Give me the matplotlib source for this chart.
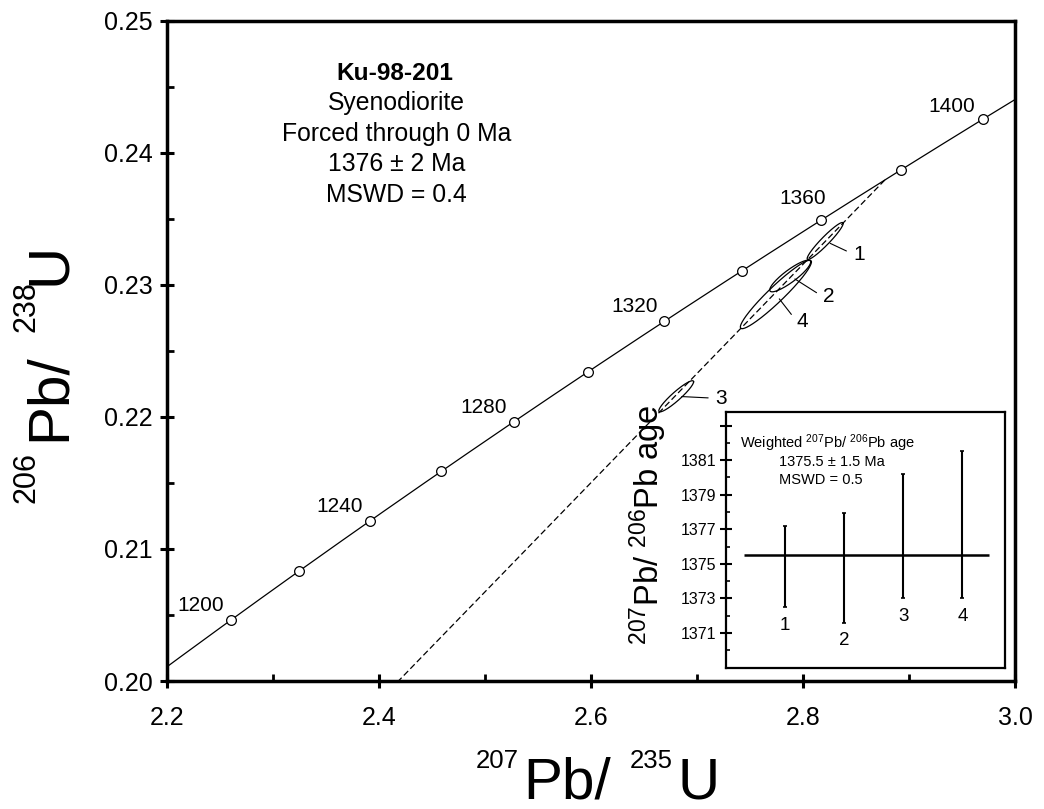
import numpy as np
import matplotlib.pyplot as plt
from matplotlib.ticker import MultipleLocator, FormatStrFormatter

plt.rcParams['font.family'] = ['Liberation Sans', 'DejaVu Sans']
plt.rcParams['mathtext.fontset'] = 'custom'
plt.rcParams['mathtext.rm'] = 'Liberation Sans'
plt.rcParams['mathtext.it'] = 'Liberation Sans:italic'
plt.rcParams['mathtext.bf'] = 'Liberation Sans:bold'

# decay constants (1/yr)
L238 = 1.55125e-10
L235 = 9.8485e-10

# concordia age marks (Ma)
tick_ages = [1200, 1220, 1240, 1260, 1280, 1300, 1320, 1340, 1360, 1380, 1400]
label_ages = [1200, 1240, 1280, 1320, 1360, 1400]

# zircon analyses
grain_ids = ['1', '2', '3', '4']
r75 = [2.8210, 2.7880, 2.6805, 2.7745]
r68 = [0.23332, 0.23067, 0.22156, 0.22927]
err75 = [0.0170, 0.0193, 0.0164, 0.0335]
err68 = [0.00140, 0.00120, 0.00118, 0.00259]
rho = [0.95, 0.88, 0.93, 0.95]

# discordia intercepts (Ma)
lower_age = 0
upper_age = 1376

# 207Pb/206Pb ages of each grain (Ma)
pb_low = [1372.5, 1371.6, 1373.0, 1373.0]
pb_high = [1377.2, 1377.95, 1380.2, 1381.55]
wmean = 1375.5

sample_lines = ['Syenodiorite', 'Forced through 0 Ma', '1376 \u00b1 2 Ma', 'MSWD = 0.4']


def concordia(t_ma):
    t = np.asarray(t_ma, dtype=float) * 1e6
    return np.exp(L235 * t) - 1, np.exp(L238 * t) - 1


def ellipse(x0, y0, sx, sy, r, n=200):
    cov = np.array([[sx**2, r * sx * sy], [r * sx * sy, sy**2]])
    L = np.linalg.cholesky(cov)
    t = np.linspace(0, 2 * np.pi, n)
    pts = L @ np.vstack([np.cos(t), np.sin(t)])
    return x0 + pts[0], y0 + pts[1]


W, H = 1044, 809
fig = plt.figure(figsize=(W / 100, H / 100), dpi=100)
ax = fig.add_axes([0.1597, 0.1582, 0.8125, 0.8162])

# concordia curve
cx, cy = concordia(np.linspace(1150, 1420, 300))
ax.plot(cx, cy, color='black', lw=0.9, zorder=2)
mx, my = concordia(tick_ages)
ax.plot(mx, my, 'o', ms=7, mfc='white', mec='black', mew=0.9, zorder=4)
age_off = {1200: (-5, 6.5), 1240: (-5, 6.5), 1280: (-5, 6.5),
           1320: (-5, 6.5), 1360: (3.5, 11.5), 1400: (-6, 5)}
for a in label_ages:
    x, y = concordia(a)
    ax.annotate(str(a), (x, y), xytext=age_off[a], textcoords='offset points',
                ha='right', va='baseline', fontsize=15)

# discordia forced through the lower intercept
dx, dy = concordia([lower_age, upper_age])
ax.plot(dx, dy, color='black', lw=0.9, ls=(0, (5, 2.5)), zorder=3)

# error ellipses
label_off = {'1': (20, -9.4), '2': (23.5, -14.9), '3': (28, -1.4), '4': (15, -19.3)}
for gid, x0, y0, sx, sy, r in zip(grain_ids, r75, r68, err75, err68, rho):
    ex, ey = ellipse(x0, y0, sx, sy, r)
    ax.plot(ex, ey, color='black', lw=0.9, zorder=3)
    ax.annotate(gid, (x0, y0), xytext=label_off[gid], textcoords='offset points',
                ha='left', va='center', fontsize=15,
                arrowprops=dict(arrowstyle='-', lw=0.8, color='black',
                                relpos=(0, 0.5), shrinkA=3, shrinkB=4))

ax.set_xlim(2.2, 3.0)
ax.set_ylim(0.20, 0.25)
ax.xaxis.set_major_locator(MultipleLocator(0.2))
ax.xaxis.set_minor_locator(MultipleLocator(0.1))
ax.yaxis.set_major_locator(MultipleLocator(0.01))
ax.yaxis.set_minor_locator(MultipleLocator(0.005))
ax.xaxis.set_major_formatter(FormatStrFormatter('%.1f'))
ax.yaxis.set_major_formatter(FormatStrFormatter('%.2f'))
ax.tick_params(which='major', direction='inout', length=10, width=2.2, labelsize=18)
ax.tick_params(which='minor', direction='in', length=5, width=2)
ax.tick_params(axis='x', which='major', pad=13)
ax.tick_params(axis='y', which='major', pad=5)
for s in ax.spines.values():
    s.set_linewidth(2.5)

# sample description
ax.text(0.269, 0.910, 'Ku-98-201', transform=ax.transAxes, ha='center',
        va='baseline', fontsize=17.6, fontweight='bold')
for i, line in enumerate(sample_lines):
    ax.text(0.271, 0.8647 - i * 0.0463, line, transform=ax.transAxes,
            ha='center', va='baseline', fontsize=17.8)


def fig_text(s, x, y, size, rot=0):
    fig.text(x / W, 1 - y / H, s, fontsize=size, ha='left', va='baseline',
             rotation=rot, rotation_mode='anchor')


# axis titles with isotope mass numbers
fig_text('207', 476, 768.3, 18.5)
fig_text('Pb/', 523.7, 798.3, 42)
fig_text('235', 630, 768.3, 18.5)
fig_text('U', 677, 798.3, 42)

fig_text('206', 35, 503.3, 22, 90)
fig_text('Pb/', 65, 441.3, 42, 90)
fig_text('238', 35, 331.7, 22, 90)
fig_text('U', 65, 284.6, 42, 90)

# inset: weighted mean 207Pb/206Pb age
ins = fig.add_axes([0.6954, 0.1747, 0.2672, 0.3164], zorder=5)
ins.set_facecolor('white')
xs = np.arange(1, len(grain_ids) + 1)
mid = (np.array(pb_low) + np.array(pb_high)) / 2
half = (np.array(pb_high) - np.array(pb_low)) / 2
ins.errorbar(xs, mid, yerr=half, fmt='none', ecolor='black', elinewidth=1.5,
             capsize=1.5, capthick=1.2)
ins.hlines(wmean, 0.3, 4.45, color='black', lw=1.8)
for x, lo, gid in zip(xs, pb_low, grain_ids):
    ins.annotate(gid, (x, lo), xytext=(0, -7), textcoords='offset points',
                 ha='center', va='top', fontsize=13.5)
ins.set_xlim(0, 4.72)
ins.set_ylim(1369, 1383.8)
ins.set_xticks([])
ins.set_yticks([1371, 1373, 1375, 1377, 1379, 1381, 1383])
ins.set_yticklabels(['1371', '1373', '1375', '1377', '1379', '1381', ''])
ins.set_yticks(np.arange(1370, 1384, 2), minor=True)
ins.tick_params(which='major', direction='inout', length=8, width=1.5, labelsize=11.5, pad=3)
ins.tick_params(which='minor', direction='in', length=3, width=1.2)
for s in ins.spines.values():
    s.set_linewidth(1.6)
ins.set_ylabel(r'$^{207}$Pb/ $^{206}$Pb age', fontsize=23.5)
ins.yaxis.set_label_coords(-0.205, 0.56)
ins.text(0.05, 0.86, r'Weighted $^{207}$Pb/ $^{206}$Pb age', transform=ins.transAxes,
         fontsize=10.5, va='baseline')
ins.text(0.19, 0.786, '1375.5 \u00b1 1.5 Ma', transform=ins.transAxes,
         fontsize=10.5, va='baseline')
ins.text(0.19, 0.718, 'MSWD = 0.5', transform=ins.transAxes,
         fontsize=10.5, va='baseline')

fig.savefig('out.png', dpi=100)
